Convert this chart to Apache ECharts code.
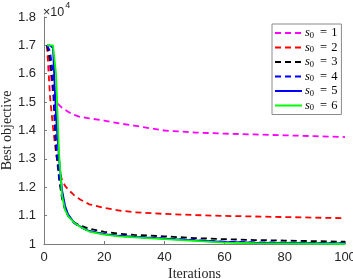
<!DOCTYPE html>
<html>
<head>
<meta charset="utf-8">
<script src="https://cdn.jsdelivr.net/npm/echarts@6/dist/echarts.min.js"></script>
<style>html,body{margin:0;padding:0;background:#fff}#c{width:353px;height:279px}</style>
</head>
<body>
<div id="c"></div>
<script>
// Iteration positions at which values were read
var iters = [1,2,3,4,5,6,7,8,10,12,15,20,25,30,40,50,60,70,80,90,100];
// Best objective values (x 10^4)
var s1 = [1.70,1.62,1.53,1.50,1.49,1.48,1.473,1.466,1.455,1.448,1.443,1.435,1.425,1.417,1.400,1.393,1.389,1.386,1.383,1.380,1.377];
var s2 = [1.70,1.52,1.41,1.32,1.26,1.225,1.205,1.192,1.172,1.157,1.140,1.127,1.118,1.112,1.106,1.102,1.099,1.097,1.095,1.093,1.091];
var s3 = [1.70,1.65,1.55,1.33,1.23,1.16,1.12,1.10,1.076,1.065,1.054,1.043,1.036,1.032,1.027,1.021,1.017,1.014,1.012,1.010,1.008];
var s4 = [1.70,1.68,1.60,1.36,1.24,1.17,1.125,1.10,1.074,1.060,1.045,1.035,1.029,1.025,1.020,1.014,1.008,1.006,1.005,1.004,1.003];
var s5 = [1.70,1.70,1.69,1.45,1.30,1.19,1.135,1.105,1.076,1.062,1.046,1.035,1.029,1.025,1.019,1.013,1.007,1.005,1.004,1.003,1.002];
var s6 = [1.70,1.70,1.70,1.60,1.32,1.17,1.12,1.098,1.075,1.061,1.044,1.033,1.027,1.023,1.017,1.011,1.005,1.003,1.002,1.001,1.000];
var seriesNames = ['1','2','3','4','5','6'];
var seriesValues = [s1,s2,s3,s4,s5,s6];
var colors = ['#ff00ff','#ff0000','#000000','#0000ff','#0000ff','#00ff00'];
var dashed = [true,true,true,true,false,false];
var xTicks = [0,20,40,60,80,100];
var yTicks = [1,1.1,1.2,1.3,1.4,1.5,1.6,1.7,1.8];

var chart = echarts.init(document.getElementById('c'), null, {renderer:'canvas'});
var series = seriesValues.map(function(vals, i){
  return {
    name: seriesNames[i],
    type: 'line',
    symbol: 'none',
    data: iters.map(function(x, j){ return [x, vals[j]]; }),
    lineStyle: {color: colors[i], width: 1.8, type: dashed[i] ? [6,4] : 'solid'},
    itemStyle: {color: colors[i]},
    animation: false
  };
});
var axisTxt = {color:'#262626', fontFamily:'Liberation Sans, Arial, sans-serif', fontSize:13};
var serif = 'Liberation Serif, serif';
chart.setOption({
  animation: false,
  grid: {left:44, right:8, top:17, bottom:35, containLabel:false, outerBoundsMode:'none'},
  xAxis: {
    type:'value', min:0, max:100, interval:20,
    name:'Iterations', nameLocation:'middle', nameGap:23.5, nameMoveOverlap:false,
    nameTextStyle:{fontFamily:serif, fontSize:14, color:'#262626'},
    axisLine:{lineStyle:{color:'#7a7a7a', width:1}},
    axisTick:{inside:true, length:3, lineStyle:{color:'#7a7a7a'}},
    axisLabel: Object.assign({margin:7, formatter: function(v){ return xTicks.indexOf(v) >= 0 ? String(v) : ''; }}, axisTxt),
    splitLine:{show:false}
  },
  yAxis: {
    type:'value', min:1, max:1.8, interval:0.1,
    name:'Best objective', nameLocation:'middle', nameGap:30, nameRotate:90, nameMoveOverlap:false,
    nameTextStyle:{fontFamily:serif, fontSize:14, color:'#262626'},
    axisLine:{show:true, lineStyle:{color:'#7a7a7a', width:1}},
    axisTick:{show:true, inside:true, length:3, lineStyle:{color:'#7a7a7a'}},
    axisLabel: Object.assign({margin:8, formatter: function(v){ return String(+v.toFixed(1)); }}, axisTxt),
    splitLine:{show:false}
  },
  legend: {
    orient:'vertical', left:272, top:24,
    itemWidth:27, itemHeight:14, itemGap:0.5,
    padding:[2,4,2,2],
    borderColor:'#8a8a8a', borderWidth:1, backgroundColor:'#fff',
    itemStyle:{opacity:0},
    data: seriesNames,
    formatter: function(n){ return '{s|s}{sub|0}{eq|=}{n|' + n + '}'; },
    textStyle:{
      padding:[0,0,0,-2],
      rich:{
        s:{fontFamily:serif, fontStyle:'italic', fontSize:12.5, color:'#000', lineHeight:14},
        sub:{fontFamily:serif, fontSize:8.5, color:'#000', lineHeight:14, padding:[5,0,0,0]},
        eq:{fontFamily:serif, fontSize:12.5, color:'#000', lineHeight:14, padding:[0,4,0,6]},
        n:{fontFamily:serif, fontSize:12.5, color:'#000', lineHeight:14}
      }
    }
  },
  graphic: [{
    type:'text', left:43, top:1,
    style:{text:'{a|×10}{b|4}', rich:{
      a:{fontFamily:'Liberation Sans, Arial, sans-serif', fontSize:12.5, fill:'#262626', padding:[5,0,0,0]},
      b:{fontFamily:'Liberation Sans, Arial, sans-serif', fontSize:9, fill:'#262626', verticalAlign:'top', padding:[0,0,0,1]}
    }}
  }],
  series: series
});
</script>
</body>
</html>
